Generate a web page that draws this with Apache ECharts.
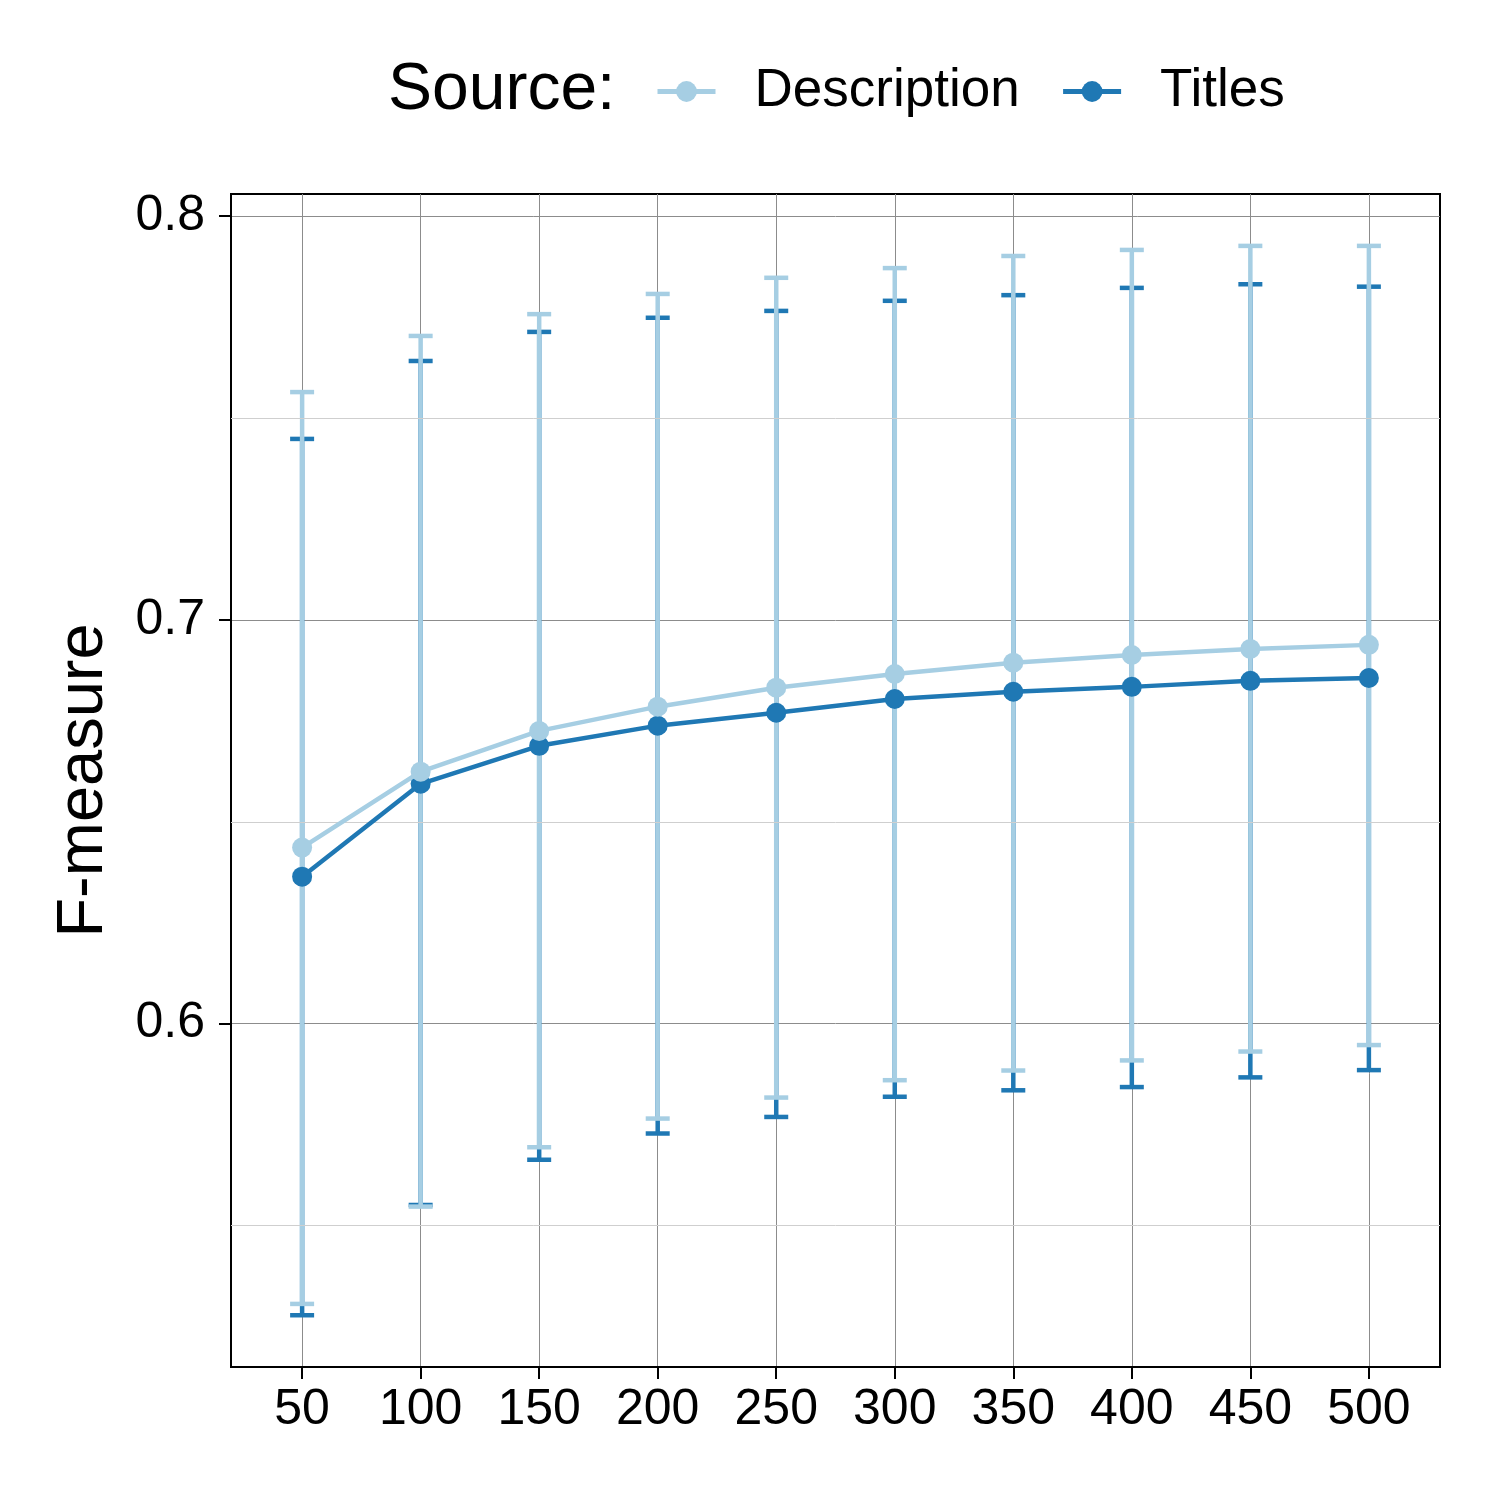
<!DOCTYPE html>
<html>
<head>
<meta charset="utf-8">
<script src="https://cdn.jsdelivr.net/npm/echarts@6/dist/echarts.min.js"></script>
<style>
  html, body { margin: 0; padding: 0; background: #fff; }
  #chart { width: 1500px; height: 1500px; }
</style>
</head>
<body>
<div id="chart"></div>
<script>
const sizes = [50, 100, 150, 200, 250, 300, 350, 400, 450, 500]

const descMean = [0.6436, 0.6624, 0.6725, 0.6785, 0.6832, 0.6866, 0.6894, 0.6913, 0.6928, 0.6938]
const descLow = [0.5306, 0.5547, 0.5694, 0.5765, 0.5817, 0.5860, 0.5884, 0.5909, 0.5931, 0.5947]
const descHigh = [0.7564, 0.7703, 0.7757, 0.7807, 0.7847, 0.7871, 0.7901, 0.7916, 0.7926, 0.7926]

const titlesMean = [0.6364, 0.6594, 0.6688, 0.6738, 0.6770, 0.6804, 0.6822, 0.6834, 0.6849, 0.6856]
const titlesLow = [0.5278, 0.5551, 0.5663, 0.5728, 0.5769, 0.5819, 0.5835, 0.5843, 0.5867, 0.5885]
const titlesHigh = [0.7448, 0.7641, 0.7713, 0.7748, 0.7765, 0.7790, 0.7804, 0.7822, 0.7831, 0.7825]

const yTicks = [0.6, 0.7, 0.8]
const yMinor = [0.55, 0.65, 0.75]

const LIGHT = '#a6cee3'
const DARK = '#1f78b4'
const FONT = 'Liberation Sans, Arial, sans-serif'

const chart = echarts.init(document.getElementById('chart'))

// error bar with caps, drawn through the axis scales
const errorBar = (color) => (params, api) => {
  const x = api.value(0)
  const lo = api.coord([x, api.value(1)])
  const hi = api.coord([x, api.value(2)])
  const half = 12
  const style = { stroke: color, lineWidth: 4.5, fill: null }
  return {
    type: 'group',
    children: [
      { type: 'line', shape: { x1: lo[0], y1: lo[1], x2: hi[0], y2: hi[1] }, style },
      { type: 'line', shape: { x1: lo[0] - half, y1: lo[1], x2: lo[0] + half, y2: lo[1] }, style },
      { type: 'line', shape: { x1: hi[0] - half, y1: hi[1], x2: hi[0] + half, y2: hi[1] }, style }
    ]
  }
}

const rangeData = (lo, hi) => sizes.map((s, i) => [s, lo[i], hi[i]])
const pointData = (vals) => sizes.map((s, i) => [s, vals[i]])

chart.setOption({
  animation: false,
  title: {
    text: 'Source:',
    left: 388,
    top: 58,
    padding: 0,
    textStyle: { fontFamily: FONT, fontSize: 66, fontWeight: 'normal', color: '#000' }
  },
  legend: {
    data: ['Description', 'Titles'],
    left: 655,
    top: 65,
    padding: 0,
    itemWidth: 58,
    itemHeight: 26,
    itemGap: 41,
    lineStyle: { width: 5 },
    formatter: (name) => '{g|}' + name,
    textStyle: {
      fontFamily: FONT,
      fontSize: 53,
      color: '#000',
      rich: { g: { width: 34 } }
    }
  },
  grid: {
    left: 231,
    top: 194,
    right: 60,
    bottom: 133,
    show: true,
    borderColor: '#000',
    borderWidth: 2,
    containLabel: false
  },
  xAxis: {
    type: 'value',
    min: 20,
    max: 530,
    axisLine: { show: true, lineStyle: { color: '#000', width: 2 } },
    axisTick: { show: true, length: 12, customValues: sizes, lineStyle: { color: '#000', width: 2 } },
    axisLabel: {
      customValues: sizes,
      margin: 18,
      fontFamily: FONT,
      fontSize: 50,
      color: '#000'
    },
    splitLine: { show: true, lineStyle: { color: '#8c8c8c', width: 1 } }
  },
  yAxis: {
    type: 'value',
    min: 0.51498,
    max: 0.80545,
    name: 'F-measure',
    nameLocation: 'middle',
    nameGap: 114,
    nameTextStyle: { fontFamily: FONT, fontSize: 65, color: '#000' },
    axisLine: { show: true, lineStyle: { color: '#000', width: 2 } },
    axisTick: { show: true, length: 12, customValues: yTicks, lineStyle: { color: '#000', width: 2 } },
    axisLabel: {
      customValues: yTicks,
      margin: 26,
      fontFamily: FONT,
      fontSize: 50,
      color: '#000',
      formatter: (v) => v.toFixed(1)
    },
    splitLine: { show: true, lineStyle: { color: '#8c8c8c', width: 1 } }
  },
  series: [
    {
      name: 'minor grid',
      type: 'line',
      data: [],
      z: 1,
      markLine: {
        silent: true,
        symbol: 'none',
        label: { show: false },
        lineStyle: { color: '#cfcfcf', width: 1, type: 'solid' },
        data: yMinor.map((v) => ({ yAxis: v }))
      }
    },
    {
      name: 'Titles range',
      type: 'custom',
      renderItem: errorBar(DARK),
      encode: { x: 0, y: [1, 2] },
      data: rangeData(titlesLow, titlesHigh),
      z: 3
    },
    {
      name: 'Description range',
      type: 'custom',
      renderItem: errorBar(LIGHT),
      encode: { x: 0, y: [1, 2] },
      data: rangeData(descLow, descHigh),
      z: 4
    },
    {
      name: 'Titles',
      type: 'line',
      data: pointData(titlesMean),
      symbol: 'circle',
      symbolSize: 20,
      color: DARK,
      lineStyle: { color: DARK, width: 4.5 },
      itemStyle: { color: DARK },
      z: 5
    },
    {
      name: 'Description',
      type: 'line',
      data: pointData(descMean),
      symbol: 'circle',
      symbolSize: 20,
      color: LIGHT,
      lineStyle: { color: LIGHT, width: 4.5 },
      itemStyle: { color: LIGHT },
      z: 6
    }
  ]
})
</script>
</body>
</html>
